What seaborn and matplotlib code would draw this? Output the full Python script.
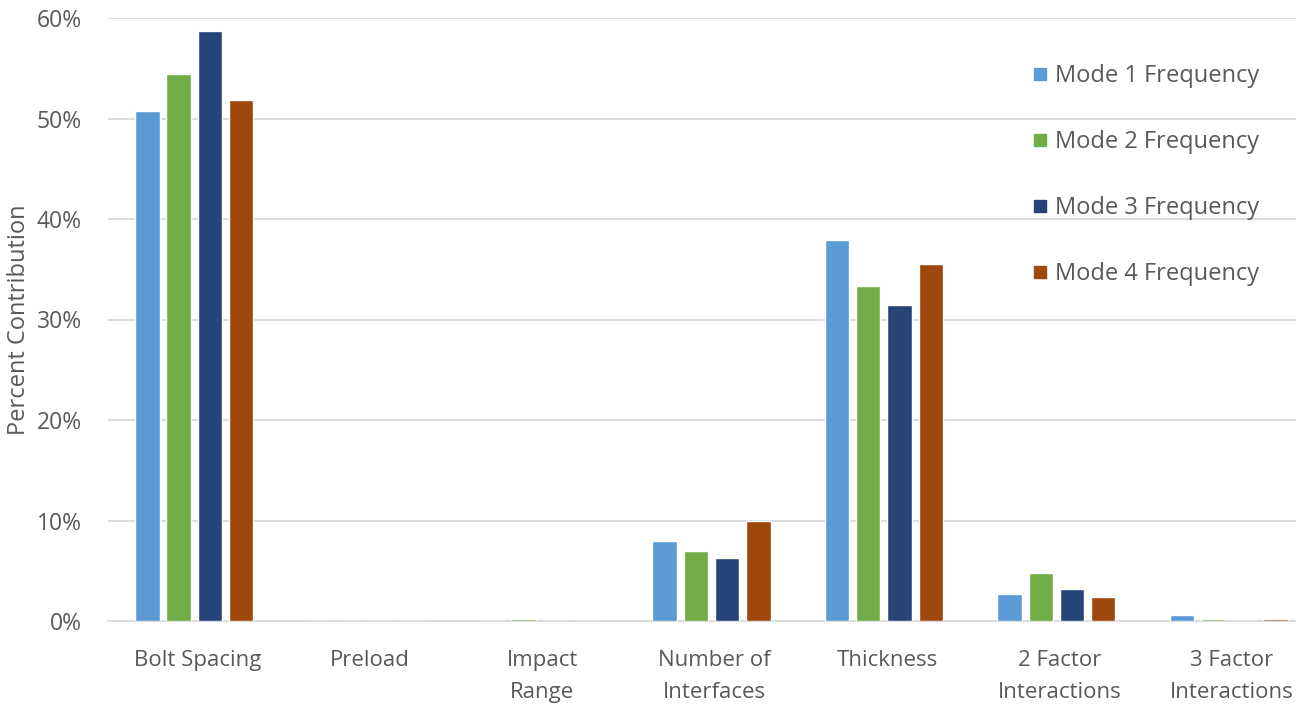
import matplotlib
matplotlib.use("Agg")
import matplotlib.pyplot as plt
from matplotlib.ticker import PercentFormatter
from matplotlib.lines import Line2D
from matplotlib.transforms import ScaledTranslation
import seaborn as sns
import pandas as pd

categories = ["Bolt Spacing", "Preload", "Impact\nRange", "Number of\nInterfaces",
              "Thickness", "2 Factor\nInteractions", "3 Factor\nInteractions"]
series = ["Mode 1 Frequency", "Mode 2 Frequency", "Mode 3 Frequency", "Mode 4 Frequency"]
mode1 = [0.507, 0.000, 0.000, 0.080, 0.379, 0.027, 0.0055]
mode2 = [0.544, 0.000, 0.002, 0.070, 0.333, 0.048, 0.002]
mode3 = [0.587, 0.000, 0.000, 0.063, 0.314, 0.032, 0.000]
mode4 = [0.518, 0.000, 0.000, 0.100, 0.355, 0.024, 0.002]
colors = ["#5B9BD5", "#70AD47", "#264478", "#9E480E"]

rows = []
for name, vals in zip(series, [mode1, mode2, mode3, mode4]):
    for cat, v in zip(categories, vals):
        rows.append({"Factor": cat, "Series": name, "Value": v})
df = pd.DataFrame(rows)

sns.set_theme(style="white")
plt.rcParams["font.family"] = ["Open Sans", "DejaVu Sans"]
text_color = "#595959"
grid_color = "#D9D9D9"

fig = plt.figure(figsize=(12.96, 7.05), dpi=100)
ax = fig.add_axes([108 / 1296, 1 - 621 / 705, 1207 / 1296, 603 / 705])

sns.barplot(data=df, x="Factor", y="Value", hue="Series", order=categories,
            hue_order=series, palette=colors, saturation=1, width=0.725, gap=0.22,
            errorbar=None, ax=ax, legend=False, zorder=3)

ax.set_ylim(0, 0.6)
ax.set_xlim(-0.5, len(categories) - 0.5)
ax.set_yticks([0, 0.1, 0.2, 0.3, 0.4, 0.5, 0.6])
ax.yaxis.set_major_formatter(PercentFormatter(1.0, decimals=0))
ax.grid(axis="y", color=grid_color, linewidth=1.3, zorder=0)
ax.set_axisbelow(True)
for side in ["top", "right", "left"]:
    ax.spines[side].set_visible(False)
ax.spines["bottom"].set_color(grid_color)
ax.spines["bottom"].set_linewidth(1.3)
ax.tick_params(axis="y", length=0, labelsize=16.5, colors=text_color, pad=19)
ax.tick_params(axis="x", length=0, labelsize=16, colors=text_color, pad=21)
shift = ScaledTranslation(3 / 100, 0, fig.dpi_scale_trans)
for lbl in ax.get_xticklabels():
    lbl.set_linespacing(1.65)
    lbl.set_transform(lbl.get_transform() + shift)
ax.set_xlabel("")
ax.set_ylabel("Percent Contribution", fontsize=17, color=text_color, labelpad=4)

handles = [Line2D([0], [0], marker="s", linestyle="none", markersize=9,
                  markerfacecolor=c, markeredgecolor=c) for c in colors]
fig.legend(handles, series, loc="upper left", bbox_to_anchor=(1020 / 1296, 1 - 55 / 705),
           frameon=False, fontsize=17, labelcolor=text_color, labelspacing=1.77,
           handletextpad=0.2, handlelength=0.9, borderaxespad=0)

fig.savefig("out.png", dpi=100)
